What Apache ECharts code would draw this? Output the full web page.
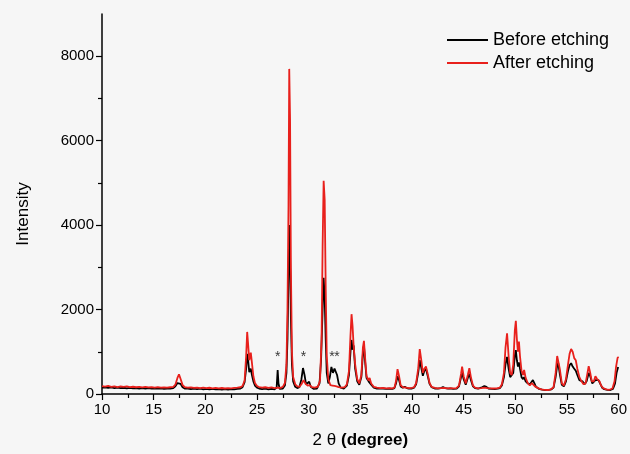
<!DOCTYPE html>
<html>
<head>
<meta charset="utf-8">
<script src="https://cdn.jsdelivr.net/npm/echarts@6/dist/echarts.min.js"></script>
<style>
html,body{margin:0;padding:0;background:#f6f6f6;}
#c{width:630px;height:454px;}
</style>
</head>
<body>
<div id="c"></div>
<script>
// 2θ (degree) and intensity readings, "Before etching" (black)
var beforeX = [10.0,10.3,10.6,10.9,11.2,11.5,11.8,12.1,12.4,12.7,13.0,13.3,13.6,13.9,14.2,14.5,14.8,15.1,15.4,15.7,16.0,16.3,16.6,16.9,17.1,17.3,17.45,17.6,17.8,18.0,18.3,18.6,18.9,19.2,19.5,19.8,20.1,20.4,20.7,21.0,21.3,21.6,21.9,22.2,22.5,22.8,23.1,23.4,23.6,23.8,23.95,24.05,24.15,24.25,24.4,24.5,24.65,24.8,25.0,25.2,25.5,25.8,26.1,26.4,26.7,26.9,27.0,27.08,27.2,27.5,27.7,27.85,27.95,28.05,28.12,28.2,28.28,28.38,28.5,28.7,28.9,29.1,29.3,29.45,29.6,29.75,29.9,30.05,30.2,30.5,30.8,31.05,31.2,31.35,31.45,31.55,31.65,31.75,31.9,32.05,32.2,32.35,32.5,32.6,32.75,32.9,33.1,33.4,33.7,33.9,34.05,34.15,34.25,34.35,34.5,34.7,34.9,35.1,35.25,35.35,35.45,35.6,35.8,35.9,36.05,36.3,36.6,36.9,37.2,37.5,37.8,38.1,38.3,38.45,38.6,38.75,38.9,39.1,39.3,39.5,39.7,40.0,40.2,40.4,40.6,40.75,40.9,41.05,41.2,41.35,41.5,41.7,41.9,42.2,42.5,42.8,43.0,43.2,43.5,43.8,44.0,44.3,44.55,44.75,44.85,45.0,45.2,45.4,45.55,45.7,45.9,46.1,46.4,46.7,47.0,47.2,47.4,47.7,48.0,48.3,48.5,48.7,48.9,49.05,49.2,49.35,49.5,49.65,49.8,49.95,50.05,50.15,50.25,50.35,50.45,50.6,50.75,50.85,51.0,51.2,51.4,51.55,51.7,51.85,52.0,52.3,52.6,52.9,53.2,53.5,53.7,53.9,54.05,54.15,54.3,54.5,54.7,54.9,55.1,55.25,55.4,55.55,55.7,55.85,56.0,56.2,56.35,56.5,56.7,56.9,57.05,57.15,57.3,57.45,57.6,57.75,57.9,58.05,58.2,58.4,58.6,58.9,59.2,59.45,59.65,59.8,59.95,60.0];
var beforeY = [150,160,145,155,140,152,138,148,135,145,132,142,130,140,128,138,125,135,125,132,122,130,125,140,180,260,290,240,160,130,125,118,128,115,125,112,122,110,120,108,118,105,115,105,115,110,120,130,160,280,600,950,780,520,600,460,300,200,150,130,115,125,110,120,110,150,570,250,120,130,200,500,1300,2800,4000,3300,1800,700,300,170,140,160,350,615,450,230,200,290,170,120,130,250,800,2000,2750,2300,1300,500,250,400,640,500,600,640,450,250,150,130,200,450,1000,1280,1050,1150,600,300,220,400,950,1150,800,380,300,330,220,150,130,125,130,120,125,120,140,250,420,330,180,150,170,140,125,130,150,230,500,800,620,430,550,600,450,240,160,130,125,140,165,140,125,130,120,125,180,400,500,350,220,380,480,330,180,140,125,150,190,170,130,120,118,125,140,200,400,700,880,600,400,380,500,900,1040,800,650,750,600,400,350,400,300,250,230,280,330,250,170,120,105,95,100,110,150,400,680,730,480,220,180,300,550,680,730,650,600,550,450,330,290,300,230,300,450,500,380,250,250,330,300,330,250,150,115,100,95,120,250,500,640,640];
// "After etching" (red)
var afterX = [10.0,10.3,10.6,10.9,11.2,11.5,11.8,12.1,12.4,12.7,13.0,13.3,13.6,13.9,14.2,14.5,14.8,15.1,15.4,15.7,16.0,16.3,16.6,16.9,17.1,17.3,17.45,17.6,17.8,18.0,18.3,18.6,18.9,19.2,19.5,19.8,20.1,20.4,20.7,21.0,21.3,21.6,21.9,22.2,22.5,22.8,23.1,23.4,23.6,23.8,23.95,24.05,24.15,24.25,24.4,24.5,24.65,24.8,25.0,25.2,25.5,25.8,26.1,26.4,26.7,27.0,27.3,27.5,27.7,27.85,27.95,28.05,28.12,28.2,28.28,28.38,28.5,28.7,28.9,29.1,29.3,29.5,29.7,29.9,30.1,30.3,30.6,30.9,31.1,31.25,31.35,31.45,31.55,31.65,31.75,31.9,32.1,32.3,32.5,32.7,32.9,33.2,33.5,33.7,33.9,34.05,34.15,34.25,34.35,34.5,34.7,34.9,35.1,35.25,35.35,35.45,35.6,35.8,35.9,36.05,36.3,36.6,36.9,37.2,37.5,37.8,38.1,38.3,38.45,38.6,38.75,38.9,39.1,39.4,39.7,40.0,40.2,40.4,40.6,40.75,40.9,41.05,41.2,41.35,41.5,41.7,41.9,42.2,42.5,42.8,43.1,43.4,43.7,44.0,44.3,44.55,44.75,44.85,45.0,45.2,45.4,45.55,45.7,45.9,46.1,46.4,46.7,47.0,47.3,47.6,47.9,48.2,48.5,48.7,48.9,49.05,49.2,49.35,49.5,49.65,49.8,49.95,50.05,50.15,50.25,50.35,50.45,50.6,50.75,50.85,51.0,51.2,51.4,51.6,51.75,51.9,52.2,52.5,52.8,53.1,53.4,53.7,53.9,54.05,54.15,54.3,54.5,54.7,54.9,55.1,55.25,55.4,55.55,55.7,55.85,56.0,56.2,56.4,56.6,56.8,56.95,57.1,57.25,57.4,57.6,57.75,57.9,58.05,58.15,58.3,58.5,58.8,59.1,59.4,59.6,59.75,59.9,60.0];
var afterY = [185,175,190,170,180,165,178,170,182,165,172,160,170,158,168,155,165,150,162,150,158,150,160,170,220,380,465,360,210,165,150,158,145,152,140,150,138,148,135,145,132,142,130,140,135,145,150,160,190,320,900,1470,1150,800,980,760,420,260,190,165,150,160,145,155,140,150,145,170,260,700,2000,4500,7700,6500,3000,1000,400,230,180,170,230,330,240,200,210,165,150,175,320,1300,3500,5050,4600,2500,900,350,210,200,190,180,165,150,165,230,550,1400,1890,1600,1150,700,350,250,450,1100,1260,900,420,320,380,250,170,150,140,145,135,140,135,150,300,590,420,210,160,150,140,145,160,260,600,1065,800,500,600,650,500,260,170,145,135,140,145,135,140,132,138,200,480,650,420,250,450,610,400,200,150,135,140,150,140,135,130,135,150,230,500,1100,1435,900,500,450,700,1500,1735,1300,1000,1240,900,550,450,570,380,260,200,260,230,180,140,110,100,95,105,160,500,900,945,600,250,200,350,700,950,1065,1000,850,800,600,400,300,230,250,450,660,500,300,300,420,360,400,300,200,140,110,100,130,300,650,860,875];
// asterisk marks
var starX = [27.0, 29.5, 32.25, 32.75];
var starY = [880, 880, 880, 880];
var seriesNames = ['Before etching', 'After etching'];
var xTicks = [10, 60, 5];
var yLabels = [0, 2000, 4000, 6000, 8000];
var yMinor = [1000, 3000, 5000, 7000];

function pairs(xs, ys){ return xs.map(function(x,i){ return [x, ys[i]]; }); }

var chart = echarts.init(document.getElementById('c'), null, {renderer:'canvas'});
var font = 'Liberation Sans, Arial, sans-serif';
chart.setOption({
  backgroundColor: '#f6f6f6',
  animation: false,
  grid: {left: 102, right: 9, top: 14, bottom: 60},
  legend: {
    orient: 'vertical', left: 442, top: 26, itemGap: 5,
    itemWidth: 41, itemHeight: 2, icon: 'rect',
    textStyle: {fontFamily: font, fontSize: 18, color: '#000'},
    data: seriesNames
  },
  xAxis: {
    type: 'value', min: xTicks[0], max: xTicks[1], interval: xTicks[2],
    name: '{a|2 θ }{b|(degree)}', nameLocation: 'middle', nameGap: 38,
    nameTextStyle: {rich: {a:{fontFamily: font, fontSize: 17, color:'#000'}, b:{fontFamily: font, fontSize: 17, fontWeight:'bold', color:'#000'}}},
    axisLine: {lineStyle: {color: '#000', width: 1.5}},
    axisTick: {length: 6, lineStyle: {color:'#000', width: 1.2}},
    minorTick: {show: true, splitNumber: 2, length: 4, lineStyle: {color:'#000', width: 1.2}},
    splitLine: {show: false},
    axisLabel: {fontFamily: font, fontSize: 15, color: '#000', margin: 8}
  },
  yAxis: [{
    type: 'value', min: 0, max: 9000,
    name: 'Intensity', nameLocation: 'middle', nameGap: 70, nameRotate: 90,
    nameTextStyle: {fontFamily: font, fontSize: 17, color: '#000', padding: [0, 20, 0, 0]},
    axisLine: {show: true, lineStyle: {color: '#000', width: 1.5}},
    axisTick: {show: true, length: 6, customValues: yLabels, lineStyle: {color:'#000', width: 1.2}},
    splitLine: {show: false},
    axisLabel: {fontFamily: font, fontSize: 15, color: '#000', margin: 8, customValues: yLabels,
      formatter: function(v){ return String(v); }}
  },{
    type: 'value', min: 0, max: 9000, position: 'left',
    axisLine: {show: false},
    axisTick: {show: true, length: 4, customValues: yMinor, lineStyle: {color:'#000', width: 1.2}},
    axisLabel: {show: false, customValues: yMinor},
    splitLine: {show: false}
  }],
  series: [{
    name: seriesNames[0], type: 'line', showSymbol: false, symbol: 'none',
    data: pairs(beforeX, beforeY), color: '#000',
    lineStyle: {width: 1.8, color: '#000'}
  },{
    name: seriesNames[1], type: 'line', showSymbol: false, symbol: 'none',
    data: pairs(afterX, afterY), color: '#e8201c',
    lineStyle: {width: 1.8, color: '#e8201c'}
  },{
    name: 'stars', type: 'scatter', symbolSize: 0,
    data: pairs(starX, starY),
    label: {show: true, formatter: '*', position: 'inside', fontFamily: font, fontSize: 14, color: '#000'},
    silent: true
  }]
});
</script>
</body>
</html>
